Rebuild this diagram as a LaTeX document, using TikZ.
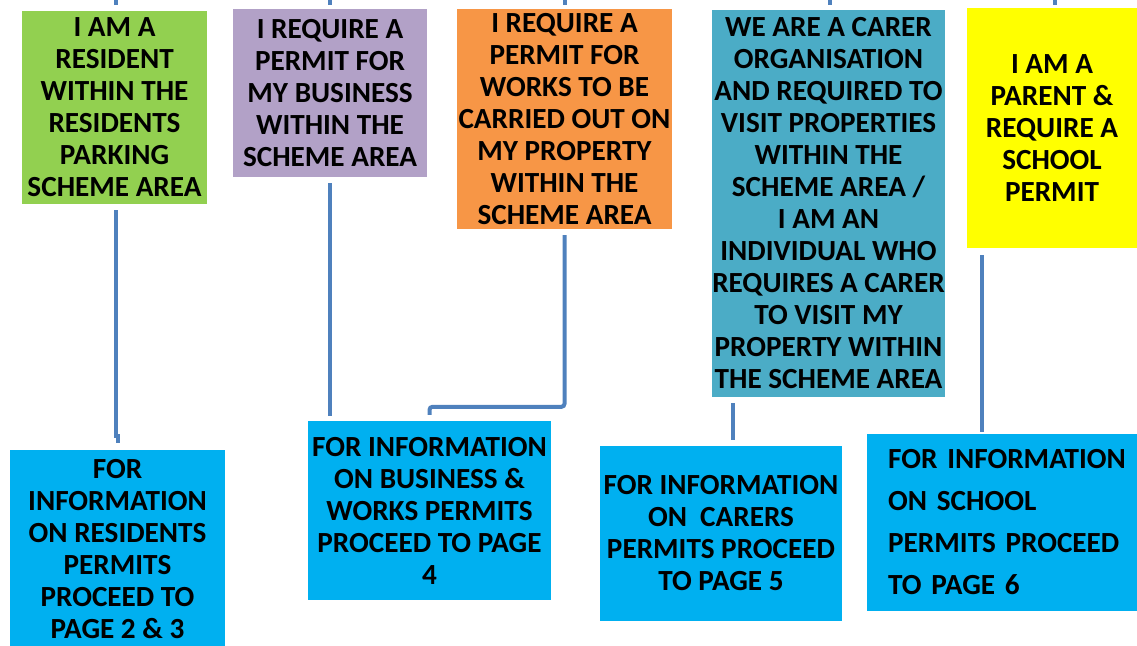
\documentclass[tikz,border=0pt]{standalone}
\usepackage{fontspec}
\setmainfont{Carlito}
\definecolor{resgreen}{HTML}{92D050}
\definecolor{buspurple}{HTML}{B2A1C7}
\definecolor{worksorange}{HTML}{F79646}
\definecolor{carerteal}{HTML}{4BACC6}
\definecolor{schoolyellow}{HTML}{FFFF00}
\definecolor{infoblue}{HTML}{00B0F0}
\definecolor{linkblue}{HTML}{4F81BD}
\begin{document}
\begin{tikzpicture}[x=1pt, y=-1pt,
% common options for the question boxes:
ask/.style = {align=center, inner sep=0, font=\bfseries\fontsize{29.2}{32}\selectfont},
% common options for the page boxes:
info/.style = {ask, fill=infoblue},
% common options for the connectors:
link/.style = {draw=linkblue, line width=4pt}]
\useasboundingbox (0,0) rectangle (1137,645);
\node[ask, fill=resgreen, minimum width=185, minimum height=193] (res) at (114.5,107.5)
  {I AM A\\RESIDENT\\WITHIN THE\\RESIDENTS\\PARKING\\SCHEME AREA};
\node[ask, fill=buspurple, minimum width=194, minimum height=168] (bus) at (330,93)
  {I REQUIRE A\\PERMIT FOR\\MY BUSINESS\\WITHIN THE\\SCHEME AREA};
\node[ask, fill=worksorange, minimum width=215, minimum height=220] (works) at (564.5,119)
  {I REQUIRE A\\PERMIT FOR\\WORKS TO BE\\CARRIED OUT ON\\MY PROPERTY\\WITHIN THE\\SCHEME AREA};
\node[ask, fill=carerteal, minimum width=233, minimum height=387] (carer) at (828.5,203.5)
  {WE ARE A CARER\\ORGANISATION\\AND REQUIRED TO\\VISIT PROPERTIES\\WITHIN THE\\SCHEME AREA /\\I AM AN\\INDIVIDUAL WHO\\REQUIRES A CARER\\TO VISIT MY\\PROPERTY WITHIN\\THE SCHEME AREA};
\node[ask, fill=schoolyellow, minimum width=170, minimum height=240] (school) at (1052,128)
  {I AM A\\PARENT \&\\REQUIRE A\\SCHOOL\\PERMIT};
\node[info, minimum width=215, minimum height=198] (resinfo) at (117.5,549)
  {FOR\\INFORMATION\\ON RESIDENTS\\PERMITS\\PROCEED TO\\PAGE 2 \& 3};
\node[info, minimum width=243, minimum height=179] (businfo) at (429.5,510.5)
  {FOR INFORMATION\\ON BUSINESS \&\\WORKS PERMITS\\PROCEED TO PAGE\\4};
\node[info, minimum width=242, minimum height=175] (carerinfo) at (721,533.5)
  {FOR INFORMATION\\ON~ CARERS\\PERMITS PROCEED\\TO PAGE 5};
\node[info, align=left, text width=255, inner xsep=21, minimum height=177, anchor=west,
  font=\bfseries\fontsize{29.2}{42}\selectfont] (schoolinfo) at (867,522.5)
  {FOR INFORMATION\\ON SCHOOL\\PERMITS PROCEED\\TO PAGE 6};
% lines coming in from above
\foreach \x in {116,330,565,830,1055}
  \draw[link] (\x,0) -- (\x,5);
% lines down to the page boxes
\draw[link] ([xshift=1.5pt,yshift=-6pt]res.south) -- ++(0,226) -| ([yshift=7pt]resinfo.north);
\draw[link, shorten >=5pt] ([yshift=-6pt]bus.south) -- (bus.south |- businfo.north);
\draw[link, rounded corners=3pt, shorten >=6pt] ([yshift=-6pt]works.south) |- ([yshift=14pt]businfo.north) -- (businfo.north);
\coordinate (carerlink) at ([xshift=21pt,yshift=-6pt]carer.south west);
\draw[link, shorten >=6pt] (carerlink) -- (carerlink |- carerinfo.north);
\coordinate (schoollink) at ([xshift=15pt,yshift=-7pt]school.south west);
\draw[link, shorten >=2pt] (schoollink) -- (schoollink |- schoolinfo.north);
\end{tikzpicture}
\end{document}
